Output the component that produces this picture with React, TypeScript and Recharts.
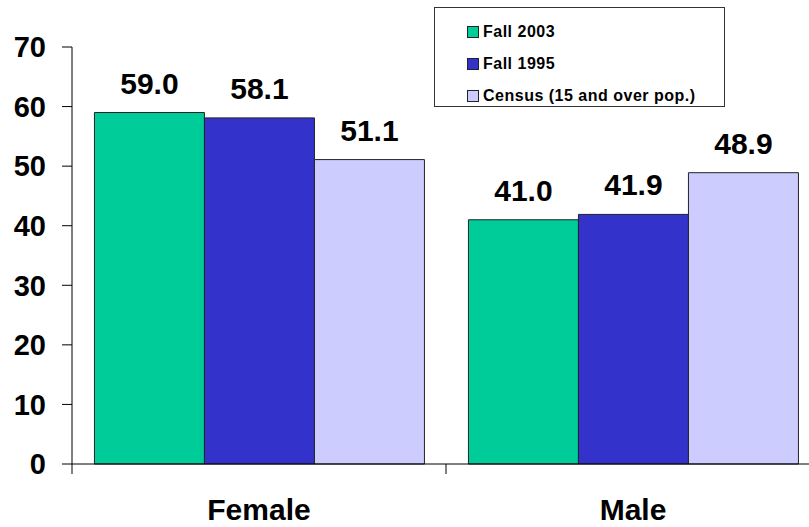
import { Bar, BarChart, LabelList, XAxis, YAxis } from "recharts"

const categories = ["Female", "Male"]
const seriesNames = ["Fall 2003", "Fall 1995", "Census (15 and over pop.)"]
const fall2003 = [59.0, 41.0]
const fall1995 = [58.1, 41.9]
const census = [51.1, 48.9]
const yTicks = [0, 10, 20, 30, 40, 50, 60, 70]

const seriesKeys = ["fall2003", "fall1995", "census"]
const seriesColors = ["#00CC99", "#3333CC", "#CCCCFF"]

const data = categories.map((name, i) => ({
  name,
  fall2003: fall2003[i],
  fall1995: fall1995[i],
  census: census[i],
}))

const FONT = "'Liberation Sans', Arial, sans-serif"

function CategoryTick(props: any) {
  const { x, y, payload } = props
  const half = payload?.offset ?? 0
  return (
    <g>
      <line x1={x - half} y1={y} x2={x - half} y2={y + 10} stroke="#000" strokeWidth={1} />
      <text
        x={x}
        y={y + 56}
        textAnchor="middle"
        fontFamily={FONT}
        fontWeight="bold"
        fontSize={30}
        fill="#000"
      >
        {payload.value}
      </text>
    </g>
  )
}

// legend box sits over the plot, top right, like the original
function LegendBox() {
  return (
    <div
      style={{
        position: "absolute",
        left: 434,
        top: 7,
        boxSizing: "border-box",
        width: 291,
        height: 100,
        border: "1px solid #333",
        background: "#fff",
        paddingTop: 8,
        paddingLeft: 32,
        fontFamily: FONT,
        fontWeight: "bold",
        fontSize: 16,
        letterSpacing: 0.5,
        color: "#000",
      }}
    >
      {seriesNames.map((name, i) => (
        <div key={name} style={{ display: "flex", alignItems: "center", height: 32 }}>
          <span
            style={{
              display: "inline-block",
              boxSizing: "border-box",
              width: 12,
              height: 12,
              background: seriesColors[i],
              border: "1px solid #222",
              marginRight: 4,
            }}
          />
          {name}
        </div>
      ))}
    </div>
  )
}

const labelStyle = { fontFamily: FONT, fontWeight: "bold", fontSize: 30, fill: "#000" }
const fmt = (v: any) => Number(v).toFixed(1)

export default function App() {
  return (
    <div style={{ position: "absolute", left: 0, top: 0, width: 809, height: 527, overflow: "hidden", background: "#fff" }}>
      <BarChart
        width={820}
        height={527}
        data={data}
        margin={{ top: 47, right: 0, bottom: 0, left: 0 }}
        barCategoryGap="6%"
        barGap={0}
      >
        <XAxis
          dataKey="name"
          height={63}
          stroke="#000"
          tickLine={false}
          tickSize={0}
          tickMargin={0}
          tick={<CategoryTick />}
          interval={0}
        />
        <YAxis
          width={72}
          domain={[0, 70]}
          ticks={yTicks}
          stroke="#000"
          tickSize={10}
          tickMargin={16}
          tick={{ fontFamily: FONT, fontWeight: "bold", fontSize: 29, fill: "#000" }}
        />
        {seriesKeys.map((key, i) => (
          <Bar
            key={key}
            dataKey={key}
            name={seriesNames[i]}
            fill={seriesColors[i]}
            stroke="#222"
            strokeWidth={1}
            isAnimationActive={false}
          >
            <LabelList dataKey={key} position="top" offset={19} formatter={fmt} style={labelStyle} />
          </Bar>
        ))}
      </BarChart>
      <LegendBox />
    </div>
  )
}
